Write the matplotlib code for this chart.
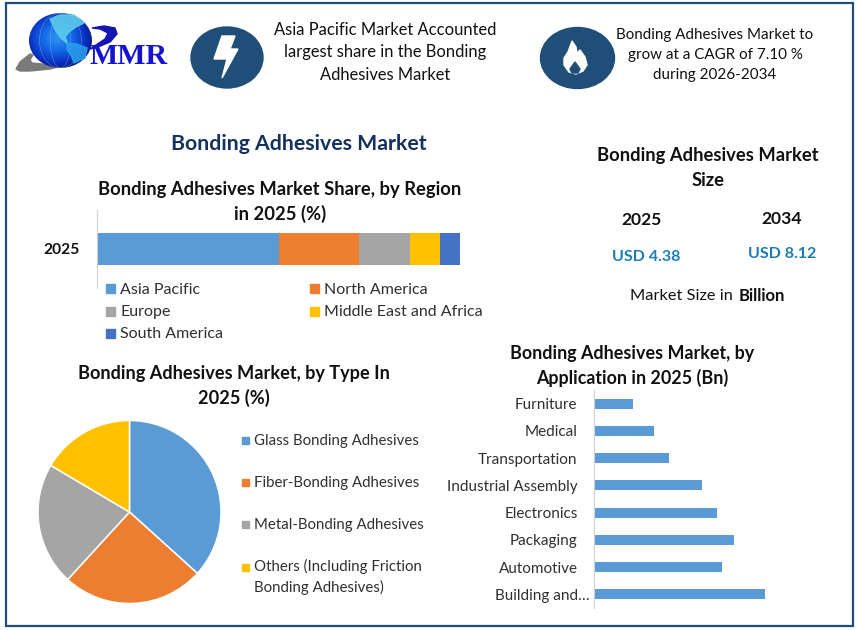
import numpy as np
import matplotlib
matplotlib.use("Agg")
import matplotlib.pyplot as plt
from matplotlib.patches import Ellipse, Polygon, Rectangle

plt.rcParams['font.family'] = ['Lato', 'DejaVu Sans']

W, H = 858, 630
years = ['2025']
regions = ['Asia Pacific', 'North America', 'Europe', 'Middle East and Africa', 'South America']
region_share = [50.1, 22.0, 14.1, 8.3, 5.5]
region_colors = ['#5B9BD5', '#ED7D31', '#A5A5A5', '#FFC000', '#4472C4']
types = ['Glass Bonding Adhesives', 'Fiber-Bonding Adhesives', 'Metal-Bonding Adhesives',
         'Others (Including Friction\nBonding Adhesives)']
type_share = [36.7, 25.1, 21.7, 16.5]
type_colors = ['#5B9BD5', '#ED7D31', '#A5A5A5', '#FFC000']
applications = ['Building and…', 'Automotive', 'Packaging', 'Electronics',
                'Industrial Assembly', 'Transportation', 'Medical', 'Furniture']
app_values = [1.43, 1.07, 1.17, 1.03, 0.90, 0.63, 0.50, 0.33]

fig = plt.figure(figsize=(W / 100, H / 100), dpi=100, facecolor='white')

def axpx(x0, y0, x1, y1, **kw):
    return fig.add_axes([x0 / W, 1 - y1 / H, (x1 - x0) / W, (y1 - y0) / H], **kw)

bg = axpx(0, 0, W, H)
bg.axis('off')

def T(x, y, s, size=11, weight='normal', color='#111111', ha='center', va='center', **kw):
    return bg.text(x, y + 1, s, fontsize=size, fontweight=weight, color=color, ha=ha, va=va, **kw)

def lines(x, y0, dy, rows, **kw):
    for i, r in enumerate(rows):
        T(x, y0 + i * dy, r, **kw)

# logo
bg.add_patch(Polygon([(16, 69), (20, 62), (30, 54), (33, 55), (30, 60), (32, 63), (42, 64), (55, 63), (70, 60), (84, 55),
                      (70, 64), (50, 69), (30, 71), (20, 71)], color='#7A7A7A', zorder=1))
g = np.linspace(0, 1, 100)
xx, yy = np.meshgrid(g, g)
d = np.sqrt((xx - 0.45) ** 2 + (yy - 0.45) ** 2)
cm = matplotlib.colors.LinearSegmentedColormap.from_list('g', ['#2A8CF0', '#1266E6', '#0A2FC0', '#04125E'])
globe_im = bg.imshow(d, extent=(29, 92, 68, 13), cmap=cm, zorder=2, aspect='auto', vmin=0.05, vmax=0.66)
clip = Ellipse((60.5, 40.5), 63, 55, transform=bg.transData)
globe_im.set_clip_path(clip)
for w in (20, 42):
    e = Ellipse((60.5, 40.5), w, 55, fill=False, ec='white', lw=0.4, alpha=.35, zorder=2.5)
    bg.add_patch(e); e.set_clip_path(Ellipse((60.5, 40.5), 63, 55, transform=bg.transData))
bg.add_patch(Polygon([(50, 19), (60, 15), (74, 15), (84, 23), (76, 27), (70, 31), (65, 37), (68, 44), (61, 38), (55, 30)],
                     color='#5CCBEA', alpha=.9, zorder=3))
bg.add_patch(Polygon([(67, 43), (77, 44), (87, 48), (85, 58), (74, 63), (71, 55), (67, 50)], color='#2AA0EC', alpha=.85, zorder=3))
bg.add_patch(Polygon([(92, 28), (104, 26), (115, 28), (117, 34), (110, 42), (98, 47), (90, 49), (105, 39), (108, 33), (100, 29)],
                     color='#1414B0', zorder=3))
T(129, 55.5, 'MMR', size=21.5, weight='bold', color='#1414D0', family='Liberation Serif', zorder=4)

# icons
NAVY = '#1F4E79'
bg.add_patch(Ellipse((227, 57.5), 72, 61, color=NAVY))
bg.add_patch(Polygon([(222, 36), (235, 36), (230, 49), (238, 49), (222, 78), (227, 59), (214, 59)], color='white'))
bg.add_patch(Ellipse((577.5, 58), 74, 61, color=NAVY))
bg.add_patch(Polygon([(572, 41), (576, 47), (577, 53), (580, 50), (585, 57), (587, 65), (583, 71), (576, 74), (569, 72),
                      (564, 65), (564, 58), (568, 52)], color='white'))
bg.add_patch(Polygon([(575, 62), (580, 69), (578, 73), (572, 73), (570, 69)], color=NAVY))
bg.add_patch(Rectangle((5.5, 3), 847, 623, fill=False, ec='#1F4E79', lw=1.6))
bg.set_xlim(0, W)
bg.set_ylim(H, 0)

lines(385, 29, 22.5, ['Asia Pacific Market Accounted', 'largest share in the Bonding', 'Adhesives Market'], size=11.9)
lines(715, 33.5, 20, ['Bonding Adhesives Market to', 'grow at a CAGR of 7.10 %', 'during 2026-2034'], size=10.9)

T(299, 143, 'Bonding Adhesives Market', size=15.3, weight='bold', color='#14315F')
lines(280, 189, 24, ['Bonding Adhesives Market Share, by Region', 'in 2025 (%)'], size=13.2, weight='bold')
lines(708, 155, 24.5, ['Bonding Adhesives Market', 'Size'], size=13.2, weight='bold')
T(642, 219, '2025', size=12.6, weight='bold')
T(782, 218, '2034', size=12.6, weight='bold')
T(646, 256, 'USD 4.38', size=11.5, weight='bold', color='#1B7DB8')
T(782, 253, 'USD 8.12', size=11.5, weight='bold', color='#1B7DB8')
T(733, 295, 'Market Size in', size=11.8, ha='right')
T(739, 295, 'Billion', size=12, weight='bold', ha='left')
lines(234, 373, 24, ['Bonding Adhesives Market, by Type In', '2025 (%)'], size=13.1, weight='bold')
lines(632, 353, 24, ['Bonding Adhesives Market, by', 'Application in 2025 (Bn)'], size=12.9, weight='bold')

# stacked bar
ax1 = axpx(96.5, 210, 460, 288)
ax1.patch.set_alpha(0)
left = 0
for name, v, c in zip(regions, region_share, region_colors):
    ax1.barh(years, [v], left=left, height=0.4, color=c, label=name)
    left += v
ax1.set_xlim(0, sum(region_share))
ax1.set_ylim(-0.5, 0.5)
for s in ['top', 'right', 'bottom']:
    ax1.spines[s].set_visible(False)
ax1.spines['left'].set_color('#D0D0D0')
ax1.set_xticks([])
ax1.tick_params(axis='y', length=0, pad=11.7)
for l in ax1.get_yticklabels():
    l.set_fontweight('bold'); l.set_fontsize(11.2); l.set_color('#111111')
legend_pos = [(106, 288.5), (310, 288.5), (106, 311), (310, 311), (106, 333.5)]
for (x, y), name, c in zip(legend_pos, regions, region_colors):
    bg.add_patch(Rectangle((x, y - 4.5), 9, 9, color=c))
    T(x + 14, y, name, size=11.5, ha='left', color='#303030')

# pie
ax2 = axpx(38, 420.5, 221, 603.5)
ax2.pie(type_share, colors=type_colors, startangle=90, counterclock=False, radius=1.0,
        wedgeprops=dict(edgecolor='white', linewidth=1.1))
ax2.set_xlim(-1, 1); ax2.set_ylim(-1, 1)
leg_y = [440, 482, 524]
for y, name, c in zip(leg_y, types[:3], type_colors[:3]):
    bg.add_patch(Rectangle((242, y - 3.5), 7, 7, color=c))
    T(254, y, name, size=10.85, ha='left', color='#303030')
bg.add_patch(Rectangle((242, 563.5), 7, 7, color=type_colors[3]))
T(254, 576, types[3], size=10.85, ha='left', color='#303030', linespacing=1.45)

# application bars
ax3 = axpx(593.5, 390, 780, 608)
ax3.patch.set_alpha(0)
ax3.barh(applications, app_values, height=0.37, color='#5B9BD5')
ax3.set_xlim(0, 186.5 / 120)
ax3.set_ylim(-0.5, 7.5)
for s in ['top', 'right', 'bottom']:
    ax3.spines[s].set_visible(False)
ax3.spines['left'].set_color('#D0D0D0')
ax3.set_xticks([])
ax3.tick_params(axis='y', length=0, pad=11.5, labelsize=11, labelcolor='#303030')
ax3.yaxis.get_major_ticks()[0].set_pad(3)

fig.savefig('out.png', dpi=100, facecolor='white')
